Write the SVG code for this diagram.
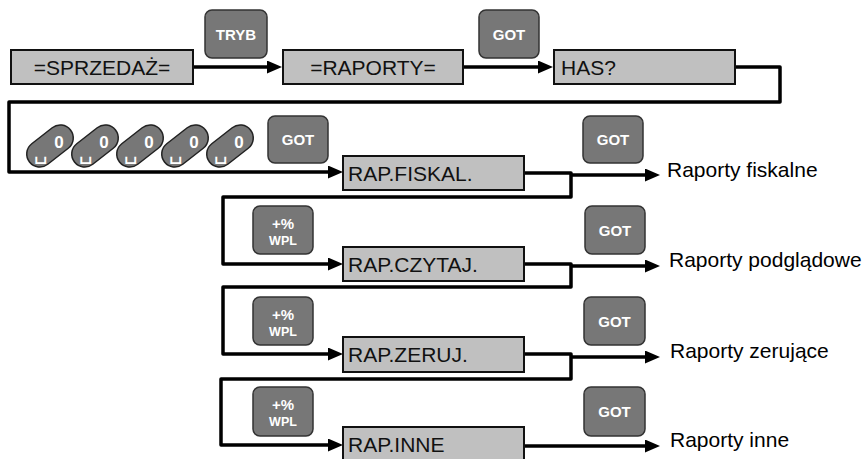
<svg xmlns="http://www.w3.org/2000/svg" width="867" height="459" viewBox="0 0 867 459">
<defs>
<style>
text{font-family:"Liberation Sans",Arial,sans-serif}
.box{fill:#c0c0c0;stroke:#111;stroke-width:2}
.lbl{font-size:21px;fill:#111}
.btn{fill:#777;stroke:#333;stroke-width:1.5}
.bt{font-size:15px;font-weight:bold;fill:#fff;text-anchor:middle}
.bs{font-size:12.5px;font-weight:bold;fill:#fff;text-anchor:middle}
.key{fill:#777;stroke:#222;stroke-width:1.5}
.kz{font-size:17px;font-weight:bold;fill:#fff;text-anchor:middle}
.ks{font-family:"DejaVu Sans",sans-serif;font-size:22px;fill:#fff;text-anchor:middle}
.con{fill:none;stroke:#000;stroke-width:3.5;stroke-linejoin:round}
.out{font-size:21px;fill:#000}
</style>
<marker id="ah" viewBox="0 0 15 13" markerWidth="15" markerHeight="13" markerUnits="userSpaceOnUse" refX="7" refY="6.5" orient="auto">
<path d="M0,0 L15,6.5 L0,13 z" fill="#000"/>
</marker>
</defs>
<rect width="867" height="459" fill="#fff"/>

<g id="connectors">
<path class="con" d="M193 67 H274" marker-end="url(#ah)"/>
<path class="con" d="M463 67 H545" marker-end="url(#ah)"/>
<path class="con" d="M735 67 H780 V102 H9 V172 H335" marker-end="url(#ah)"/>
<path class="con" d="M524 173 H571 V197 H223 V264 H335" marker-end="url(#ah)"/>
<path class="con" d="M571 175 H652" marker-end="url(#ah)"/>
<path class="con" d="M524 264 H571 V287 H223 V354 H335" marker-end="url(#ah)"/>
<path class="con" d="M571 266 H652" marker-end="url(#ah)"/>
<path class="con" d="M524 354 H571 V379 H221 V445 H335" marker-end="url(#ah)"/>
<path class="con" d="M571 357 H652" marker-end="url(#ah)"/>
<path class="con" d="M524 446 H652" marker-end="url(#ah)"/>
</g>

<g id="sprzedaz"><rect class="box" x="11" y="50" width="182" height="34"/><text class="lbl" x="102" y="74.5" text-anchor="middle">=SPRZEDAŻ=</text></g>
<g id="raporty"><rect class="box" x="283" y="50" width="180" height="34"/><text class="lbl" x="373" y="74.5" text-anchor="middle">=RAPORTY=</text></g>
<g id="has"><rect class="box" x="554" y="50" width="181" height="34"/><text class="lbl" x="561" y="74.5">HAS?</text></g>

<g id="btn-tryb"><rect class="btn" x="205" y="10" width="62" height="48" rx="7"/><text class="bt" x="236" y="39.5">TRYB</text></g>
<g id="btn-got1"><rect class="btn" x="479" y="10" width="60" height="48" rx="7"/><text class="bt" x="509" y="39.5">GOT</text></g>

<g id="keys">
<g transform="translate(50,146)"><rect class="key" x="-26" y="-13" width="52" height="26" rx="13" transform="rotate(-38)"/><text class="kz" x="9" y="1.5">0</text><text class="ks" x="-9" y="13">␣</text></g>
<g transform="translate(95,146)"><rect class="key" x="-26" y="-13" width="52" height="26" rx="13" transform="rotate(-38)"/><text class="kz" x="9" y="1.5">0</text><text class="ks" x="-9" y="13">␣</text></g>
<g transform="translate(140,146)"><rect class="key" x="-26" y="-13" width="52" height="26" rx="13" transform="rotate(-38)"/><text class="kz" x="9" y="1.5">0</text><text class="ks" x="-9" y="13">␣</text></g>
<g transform="translate(185,146)"><rect class="key" x="-26" y="-13" width="52" height="26" rx="13" transform="rotate(-38)"/><text class="kz" x="9" y="1.5">0</text><text class="ks" x="-9" y="13">␣</text></g>
<g transform="translate(230,146)"><rect class="key" x="-26" y="-13" width="52" height="26" rx="13" transform="rotate(-38)"/><text class="kz" x="9" y="1.5">0</text><text class="ks" x="-9" y="13">␣</text></g>
</g>
<g id="btn-got2"><rect class="btn" x="268" y="116" width="60" height="47" rx="7"/><text class="bt" x="298" y="145">GOT</text></g>

<g id="rap-fiskal"><rect class="box" x="343" y="156" width="181" height="34"/><text class="lbl" x="348" y="180.5">RAP.FISKAL.</text></g>
<g id="rap-czytaj"><rect class="box" x="343" y="247" width="181" height="34"/><text class="lbl" x="348" y="271.5">RAP.CZYTAJ.</text></g>
<g id="rap-zeruj"><rect class="box" x="343" y="337" width="181" height="35"/><text class="lbl" x="348" y="362">RAP.ZERUJ.</text></g>
<g id="rap-inne"><rect class="box" x="343" y="427" width="181" height="35"/><text class="lbl" x="348" y="452">RAP.INNE</text></g>

<g id="btn-wpl1"><rect class="btn" x="253" y="206" width="60" height="48" rx="7"/><text class="bt" x="283" y="229">+%</text><text class="bs" x="283" y="245">WPL</text></g>
<g id="btn-wpl2"><rect class="btn" x="253" y="297" width="60" height="48" rx="7"/><text class="bt" x="283" y="320">+%</text><text class="bs" x="283" y="336">WPL</text></g>
<g id="btn-wpl3"><rect class="btn" x="253" y="387" width="60" height="49" rx="7"/><text class="bt" x="283" y="410">+%</text><text class="bs" x="283" y="426">WPL</text></g>

<g id="btn-got3"><rect class="btn" x="583" y="116" width="60" height="47" rx="7"/><text class="bt" x="613" y="145">GOT</text></g>
<g id="btn-got4"><rect class="btn" x="585" y="206" width="60" height="48" rx="7"/><text class="bt" x="615" y="235.5">GOT</text></g>
<g id="btn-got5"><rect class="btn" x="584" y="297" width="61" height="48" rx="7"/><text class="bt" x="614.5" y="326.5">GOT</text></g>
<g id="btn-got6"><rect class="btn" x="584" y="387" width="61" height="49" rx="7"/><text class="bt" x="614.5" y="417">GOT</text></g>

<g id="out-fiskalne"><text class="out" x="667" y="177">Raporty fiskalne</text></g>
<g id="out-podgladowe"><text class="out" x="669" y="267">Raporty podglądowe</text></g>
<g id="out-zerujace"><text class="out" x="670" y="358">Raporty zerujące</text></g>
<g id="out-inne"><text class="out" x="670" y="447">Raporty inne</text></g>
</svg>
